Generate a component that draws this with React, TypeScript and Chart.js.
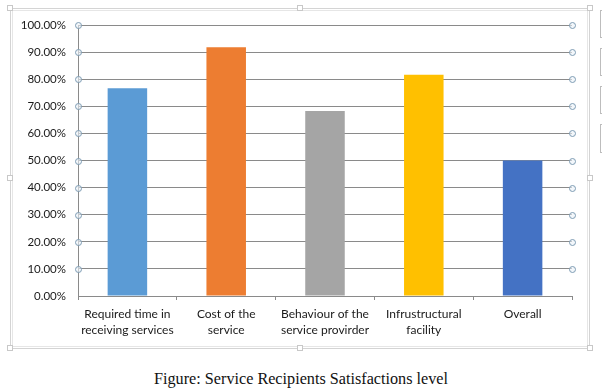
import React, { useEffect, useRef } from "react";
import { Chart, registerables } from "chart.js";

Chart.register(...registerables);

const categories: string[][] = [
  ["Required time in", "receiving services"],
  ["Cost of the", "service"],
  ["Behaviour of the", "service provirder"],
  ["Infrustructural", "facility"],
  ["Overall"],
];
const values: number[] = [76.7, 91.8, 68.3, 81.6, 50.0];
const barColors: string[] = ["#5B9BD5", "#ED7D31", "#A5A5A5", "#FFC000", "#4472C4"];
const yTickMin = 0;
const yTickMax = 100;
const yTickStep = 10;
const caption = "Figure: Service Recipients Satisfactions level";

const GRID = "#8a8a8a";

const framePlugin = {
  id: "framePlugin",
  beforeDraw(chart: any) {
    const ctx = chart.ctx;
    ctx.save();
    ctx.fillStyle = "#ffffff";
    ctx.fillRect(0, 0, chart.width, chart.height);
    ctx.strokeStyle = "#d4d4d4";
    ctx.lineWidth = 1;
    ctx.strokeRect(10.5, 8.5, 579, 340);
    ctx.strokeStyle = "#e6e6e6";
    ctx.strokeRect(12.5, 10.5, 575, 336);
    const hs = [
      [10, 8], [300, 8], [590, 8],
      [10, 178], [590, 178],
      [10, 348], [300, 348], [590, 348],
    ];
    for (const [hx, hy] of hs) {
      ctx.fillStyle = "#ffffff";
      ctx.fillRect(hx - 3, hy - 3, 6, 6);
      ctx.strokeStyle = "#c8c8c8";
      ctx.strokeRect(hx - 2.5, hy - 2.5, 5, 5);
    }
    ctx.strokeStyle = "#bdbdbd";
    const rects = [[10, 37], [48, 75], [86, 113], [124, 152]];
    for (const [t, b] of rects) {
      ctx.strokeRect(600.5, t + 0.5, 10, b - t);
    }
    ctx.restore();
  },
  afterDraw(chart: any) {
    const ctx = chart.ctx;
    const y = chart.scales.y;
    const area = chart.chartArea;
    ctx.save();
    ctx.strokeStyle = "#7f9db4";
    ctx.lineWidth = 1;
    for (const t of y.ticks) {
      if (t.value === 0) continue;
      const py = Math.round(y.getPixelForValue(t.value)) + 0.5;
      for (const px of [Math.round(area.left) + 0.5, Math.round(area.right) + 0.5]) {
        ctx.beginPath();
        ctx.arc(px, py, 3, 0, Math.PI * 2);
        ctx.fillStyle = "rgba(235,242,248,0.6)";
        ctx.fill();
        ctx.stroke();
      }
    }
    ctx.restore();
  },
};

export default function App() {
  const ref = useRef<HTMLCanvasElement | null>(null);
  useEffect(() => {
    if (!ref.current) return;
    const chart = new Chart(ref.current, {
      type: "bar",
      data: {
        labels: categories,
        datasets: [
          {
            data: values,
            backgroundColor: barColors,
            borderWidth: 0,
            categoryPercentage: 1,
            barPercentage: 0.4,
          },
        ],
      },
      options: {
        animation: false,
        responsive: false,
        devicePixelRatio: 1,
        layout: { padding: { top: 25, right: 30, bottom: 14, left: 0 } },
        plugins: {
          legend: { display: false },
          tooltip: { enabled: false },
        },
        scales: {
          x: {
            afterFit: (s: any) => {
              s.height = 50;
            },
            grid: {
              drawOnChartArea: false,
              drawTicks: true,
              tickLength: 4,
              color: GRID,
              offset: true,
            },
            border: { display: true, color: GRID },
            ticks: {
              color: "#1a1a1a",
              padding: 6,
              font: { family: "Lato", size: 12, lineHeight: 16 / 12 },
              maxRotation: 0,
              autoSkip: false,
            },
          },
          y: {
            min: yTickMin,
            max: yTickMax,
            afterFit: (s: any) => {
              s.width = 78;
            },
            grid: { color: GRID, drawTicks: false },
            border: { display: true, color: GRID },
            ticks: {
              stepSize: yTickStep,
              padding: 12,
              color: "#1a1a1a",
              font: { family: "Lato", size: 11.5 },
              callback: (v: any) => Number(v).toFixed(2) + "%",
            },
          },
        },
      },
      plugins: [framePlugin],
    });
    return () => chart.destroy();
  }, []);
  return (
    <div style={{ position: "fixed", left: 0, top: 0, width: 602, height: 391, background: "#fff" }}>
      <canvas ref={ref} width={602} height={360} style={{ display: "block", width: 602, height: 360 }} />
      <div
        style={{
          position: "absolute",
          left: 0,
          top: 370,
          width: 602,
          textAlign: "center",
          fontFamily: "'Liberation Serif', 'Times New Roman', serif",
          fontSize: 16.2,
          lineHeight: "18px",
          color: "#111",
        }}
      >
        {caption}
      </div>
    </div>
  );
}
